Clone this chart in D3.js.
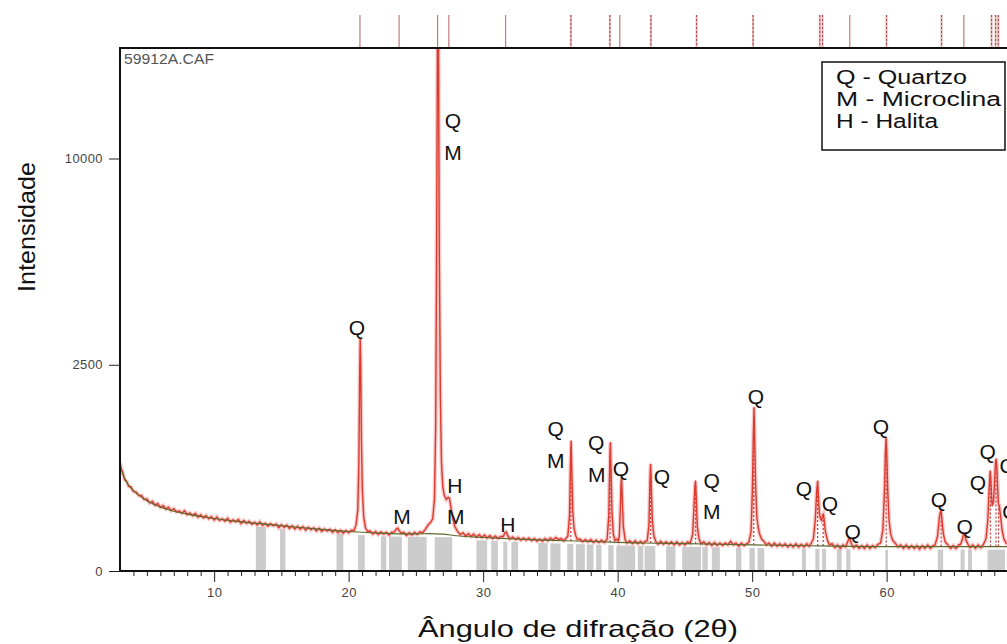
<!DOCTYPE html>
<html>
<head>
<meta charset="utf-8">
<script src="https://cdn.jsdelivr.net/npm/d3@7"></script>
<style>
  body { margin: 0; background: #fff; }
  svg { display: block; font-family: "Liberation Sans", Arial, sans-serif; }
</style>
</head>
<body>
<script>
// measured pattern, [2theta, counts]
const observed = [
  [3.0,690],[3.1,610],[3.2,570],[3.35,490],[3.5,470],[3.65,420],[3.8,418],[4.0,372],[4.2,366],[4.4,334],
  [4.6,336],[4.8,300],[5.0,306],[5.2,272],[5.4,286],[5.6,254],[5.8,268],[6.0,238],[6.2,252],[6.4,226],
  [6.6,240],[6.8,214],[7.0,228],[7.2,206],[7.4,212],[7.6,196],[7.8,214],[8.0,186],[8.2,198],[8.4,180],
  [8.6,196],[8.8,170],[9.0,186],[9.2,166],[9.4,180],[9.6,160],[9.8,174],[10.0,152],[10.2,172],[10.4,150],
  [10.6,160],[10.8,146],[11.0,164],[11.2,140],[11.4,154],[11.6,142],[11.8,156],[12.0,132],[12.2,150],[12.4,134],
  [12.6,146],[12.8,128],[13.0,140],[13.2,124],[13.4,142],[13.6,122],[13.8,134],[14.0,118],[14.2,132],[14.4,120],
  [14.6,130],[14.8,110],[15.0,126],[15.2,112],[15.4,124],[15.6,106],[15.8,120],[16.0,104],[16.2,118],[16.4,102],
  [16.6,116],[16.8,98],[17.0,112],[17.2,100],[17.4,110],[17.6,94],[17.8,108],[18.0,92],[18.2,104],[18.4,94],
  [18.6,102],[18.8,88],[19.0,100],[19.2,86],[19.4,98],[19.6,84],[19.8,96],[20.0,86],[20.2,98],[20.4,96],
  [20.55,125],[20.68,220],[20.76,700],[20.82,2300],[20.86,3170],[20.9,2500],[20.95,1000],[21.02,380],[21.12,170],[21.25,110],
  [21.4,92],[21.6,94],[21.8,80],[22.0,92],[22.2,78],[22.4,90],[22.6,80],[22.8,88],[23.0,76],[23.2,88],
  [23.4,90],[23.55,104],[23.65,108],[23.75,96],[23.9,84],[24.1,88],[24.3,74],[24.5,86],[24.7,76],[24.9,88],
  [25.1,78],[25.3,90],[25.5,86],[25.7,102],[25.9,124],[26.1,140],[26.25,160],[26.38,300],[26.47,1200],[26.54,6000],
  [26.6,16000],[26.64,22000],[26.68,16000],[26.74,6000],[26.82,1800],[26.9,700],[27.0,420],[27.1,340],[27.25,300],[27.4,320],
  [27.5,310],[27.6,240],[27.75,160],[27.9,115],[28.1,92],[28.3,78],[28.5,86],[28.7,72],[28.9,82],[29.1,70],
  [29.3,80],[29.5,68],[29.7,78],[29.9,66],[30.1,76],[30.3,64],[30.5,74],[30.7,62],[30.9,72],[31.1,62],
  [31.3,70],[31.5,70],[31.62,86],[31.72,90],[31.82,74],[32.0,60],[32.2,68],[32.4,58],[32.6,66],[32.8,56],
  [33.0,64],[33.2,56],[33.4,64],[33.6,54],[33.8,62],[34.0,52],[34.2,60],[34.4,52],[34.6,62],[34.8,54],
  [35.0,64],[35.2,56],[35.4,66],[35.6,58],[35.8,62],[36.0,54],[36.15,62],[36.3,72],[36.42,180],[36.49,650],
  [36.54,995],[36.59,600],[36.66,220],[36.75,110],[36.88,74],[37.0,58],[37.2,60],[37.4,50],[37.6,58],[37.8,50],
  [38.0,58],[38.2,48],[38.4,56],[38.6,48],[38.8,56],[39.0,48],[39.15,56],[39.22,60],[39.34,180],[39.41,650],
  [39.46,970],[39.51,580],[39.58,200],[39.68,80],[39.8,54],[39.95,60],[40.05,52],[40.12,70],[40.2,220],[40.25,430],
  [40.29,513],[40.34,320],[40.42,120],[40.55,58],[40.7,46],[40.9,54],[41.1,44],[41.3,54],[41.5,44],[41.7,52],
  [41.9,44],[42.05,52],[42.2,54],[42.33,130],[42.4,480],[42.45,671],[42.5,420],[42.58,150],[42.7,70],[42.85,50],
  [43.0,42],[43.2,52],[43.4,42],[43.6,50],[43.8,42],[44.0,50],[44.2,40],[44.4,50],[44.6,40],[44.8,48],
  [45.0,40],[45.2,50],[45.4,46],[45.58,80],[45.68,260],[45.74,420],[45.79,477],[45.84,330],[45.92,120],[46.05,60],
  [46.2,44],[46.4,50],[46.6,40],[46.8,48],[47.0,38],[47.2,48],[47.4,38],[47.6,46],[47.8,38],[48.0,46],
  [48.2,40],[48.4,52],[48.6,40],[48.8,46],[49.0,36],[49.2,46],[49.4,38],[49.6,44],[49.75,48],[49.92,90],
  [50.02,400],[50.09,1100],[50.14,1571],[50.19,1000],[50.26,420],[50.35,170],[50.45,110],[50.55,80],[50.7,60],[50.9,50],
  [51.05,40],[51.25,46],[51.45,36],[51.65,46],[51.85,36],[52.05,44],[52.25,36],[52.45,44],[52.65,34],[52.85,42],
  [53.05,34],[53.25,44],[53.45,34],[53.65,42],[53.85,34],[54.05,44],[54.25,36],[54.4,46],[54.55,60],[54.7,160],
  [54.8,380],[54.87,477],[54.93,320],[55.0,200],[55.08,160],[55.16,150],[55.24,180],[55.3,191],[55.36,150],[55.45,90],
  [55.6,55],[55.75,40],[55.95,44],[56.15,32],[56.35,40],[56.55,30],[56.75,40],[56.95,34],[57.12,52],[57.2,62],
  [57.28,58],[57.4,42],[57.55,32],[57.75,40],[57.95,30],[58.15,38],[58.35,30],[58.55,40],[58.75,30],[58.95,38],
  [59.15,32],[59.35,42],[59.55,46],[59.72,100],[59.84,380],[59.91,850],[59.96,1047],[60.01,800],[60.08,380],[60.18,150],
  [60.3,80],[60.45,55],[60.65,45],[60.85,34],[61.05,40],[61.25,30],[61.45,40],[61.65,30],[61.85,38],[62.05,30],
  [62.25,38],[62.45,28],[62.65,38],[62.85,30],[63.05,40],[63.25,30],[63.45,38],[63.6,40],[63.78,70],[63.92,170],
  [64.0,205],[64.05,212],[64.12,150],[64.22,80],[64.35,50],[64.55,40],[64.75,30],[64.95,38],[65.15,30],[65.35,40],
  [65.5,42],[65.62,58],[65.72,80],[65.8,76],[65.9,55],[66.05,42],[66.2,32],[66.4,40],[66.6,30],[66.8,40],
  [67.0,32],[67.2,42],[67.38,60],[67.52,150],[67.62,400],[67.7,589],[67.76,450],[67.84,250],[67.94,280],[68.02,450],
  [68.09,680],[68.14,739],[68.2,620],[68.26,380],[68.31,264],[68.38,250],[68.46,180],[68.58,100],[68.72,60],[68.9,45],
  [69.2,40],[69.6,38],[70.0,37]
];

// fitted background
const background = [
  [3.0,640],[3.3,520],[3.6,440],[4.0,380],[4.5,330],[5.0,290],[5.5,262],[6,240],[7,210],[8,190],
  [9,175],[10,162],[12,142],[14,128],[16,114],[18,102],[20,92],[22,85],[24,81],[25,81],
  [26,82],[27,80],[28,73],[30,66],[32,61],[34,57],[36,54],[38,51],[40,48],[42,46],
  [45,44],[50,40],[55,37],[60,35],[65,35],[70,35]
];

// reference stick positions (2theta) shown above the frame
const solidSticks = [20.84, 23.75, 26.61, 27.45, 31.67, 40.16, 57.26, 65.74];
const dottedSticks = [36.52, 39.42, 42.47, 45.87, 50.07, 55.03, 55.23, 59.99, 64.08, 67.80, 68.10, 68.30];

// dotted reference lines drawn inside peaks [2theta, counts]
const peakSticks = [
  [36.52, 900], [39.44, 880], [42.46, 600], [45.8, 430], [50.12, 1400], [54.87, 420],
  [55.28, 170], [59.97, 950], [64.05, 190], [67.72, 520], [68.13, 660], [68.32, 250]
];

// grey bands along the base [from, to] in 2theta
const greyBands = [
  [13.1,13.85],[14.9,15.3],[19.1,19.6],[20.7,21.2],[22.4,22.8],[23.0,23.96],[24.4,25.8],[26.4,27.7],
  [29.5,30.3],[30.6,31.1],[31.5,31.8],[32.1,32.6],[34.1,34.8],[35.0,35.75],[36.25,36.7],[36.9,37.56],
  [37.7,38.2],[38.4,38.8],[39.3,39.7],[39.9,41.3],[41.5,41.9],[42.0,42.8],[43.6,44.3],[44.8,46.2],
  [46.3,46.7],[47.0,47.6],[48.8,49.2],[49.8,50.2],[50.4,50.9],[53.7,54.0],[54.7,55.0],[55.2,55.5],
  [56.3,56.65],[57.0,57.3],[59.9,60.1],[63.8,64.2],[65.5,65.8],[66.05,66.35],[67.5,68.8]
];

// peak annotations [text, 2theta, counts]
const labels = [
  ["Q",20.61,3479],["Q",27.75,11930],["M",27.75,10293],["M",23.96,172],["H",27.89,426],["M",27.97,172],
  ["H",31.84,125],["Q",35.4,1188],["M",35.4,713],["Q",38.4,965],["M",38.45,543],["Q",40.24,613],
  ["Q",43.29,521],["Q",46.99,477],["M",46.99,205],["Q",50.28,1784],["Q",53.85,396],["Q",55.78,264],
  ["Q",57.48,94],["Q",59.57,1222],["Q",63.88,297],["Q",65.81,119],["Q",66.78,456],["Q",67.52,834],
  ["Q",69.0,650],["Q",69.2,205]
];

const legendItems = ["Q - Quartzo", "M - Microclina", "H - Halita"];
const yTicks = [0, 2500, 10000];
const xTicks = [10, 20, 30, 40, 50, 60];

const w = 1007, h = 644;
const plotLeft = 120, plotTop = 48, plotBottom = 571;

const x = d3.scaleLinear().domain([3, 70]).range([plotLeft, plotLeft + 67 * 13.45]);
const y = d3.scaleSqrt().domain([0, 10000]).range([plotBottom, 158.5]);

const svg = d3.select("body").append("svg")
  .attr("width", w).attr("height", h);

svg.append("clipPath").attr("id", "plot")
  .append("rect").attr("x", plotLeft).attr("y", plotTop)
  .attr("width", x(70) - plotLeft).attr("height", plotBottom - plotTop);

const plot = svg.append("g").attr("clip-path", "url(#plot)");

// background level at a given angle, for the grey bands
const bisect = d3.bisector(d => d[0]).left;
function bgAt(t) {
  const i = Math.max(1, Math.min(background.length - 1, bisect(background, t)));
  const a = background[i - 1], b = background[i];
  return a[1] + (b[1] - a[1]) * (t - a[0]) / (b[0] - a[0]);
}

plot.selectAll("rect.band")
  .data(greyBands)
  .enter().append("rect")
  .attr("class", "band")
  .attr("x", d => x(d[0]))
  .attr("width", d => x(d[1]) - x(d[0]))
  .attr("y", d => y(bgAt((d[0] + d[1]) / 2)) + 3)
  .attr("height", d => plotBottom - y(bgAt((d[0] + d[1]) / 2)) - 3)
  .attr("fill", "#cccccc");

const line = d3.line().x(d => x(d[0])).y(d => y(d[1]));

plot.append("path")
  .datum(observed)
  .attr("d", line)
  .attr("fill", "none")
  .attr("stroke", "#f3a5a5")
  .attr("stroke-width", 4)
  .attr("stroke-opacity", 0.6);

plot.selectAll("line.pk")
  .data(peakSticks)
  .enter().append("line")
  .attr("class", "pk")
  .attr("x1", d => x(d[0])).attr("x2", d => x(d[0]))
  .attr("y1", d => y(bgAt(d[0])))
  .attr("y2", d => y(d[1]))
  .attr("stroke", "#c03a3a")
  .attr("stroke-width", 1.2)
  .attr("stroke-dasharray", "2,2");

plot.append("path")
  .datum(observed)
  .attr("d", line)
  .attr("fill", "none")
  .attr("stroke", "#dc3a2e")
  .attr("stroke-width", 1.4)
  .attr("stroke-linejoin", "round");

plot.append("path")
  .datum(background)
  .attr("d", d3.line().curve(d3.curveMonotoneX).x(d => x(d[0])).y(d => y(d[1])))
  .attr("fill", "none")
  .attr("stroke", "#5d6a2c")
  .attr("stroke-width", 1.1);

// sticks above the frame
svg.selectAll("line.solid")
  .data(solidSticks)
  .enter().append("line")
  .attr("class", "solid")
  .attr("x1", d => x(d)).attr("x2", d => x(d))
  .attr("y1", 15).attr("y2", plotTop)
  .attr("stroke", "#c47a7a").attr("stroke-width", 1.2);

svg.selectAll("line.dot")
  .data(dottedSticks)
  .enter().append("line")
  .attr("class", "dot")
  .attr("x1", d => x(d)).attr("x2", d => x(d))
  .attr("y1", 15).attr("y2", plotTop)
  .attr("stroke", "#e2b0b0").attr("stroke-width", 2);
svg.selectAll("line.dot2")
  .data(dottedSticks)
  .enter().append("line")
  .attr("class", "dot2")
  .attr("x1", d => x(d)).attr("x2", d => x(d))
  .attr("y1", 15).attr("y2", plotTop)
  .attr("stroke", "#a84848").attr("stroke-width", 1)
  .attr("stroke-dasharray", "2,2");

// frame
svg.append("path")
  .attr("d", `M${x(70)},${plotTop}H${plotLeft}V${plotBottom}H${x(70)}`)
  .attr("fill", "none").attr("stroke", "#111").attr("stroke-width", 2);

// axes
const yAxis = d3.axisLeft(y).tickValues(yTicks).tickFormat(d3.format("d")).tickSize(10).tickPadding(6);
const gy = svg.append("g").attr("transform", `translate(${plotLeft - 1},0)`).call(yAxis);
gy.select(".domain").remove();
gy.selectAll("text").attr("font-size", 13).attr("fill", "#444").attr("letter-spacing", 0.4)
  .style("font-family", "'Liberation Sans', Arial, sans-serif");
gy.selectAll("line").attr("stroke", "#222");

const xAxis = d3.axisBottom(x).tickValues(xTicks).tickSize(11).tickPadding(6);
const gx = svg.append("g").attr("transform", `translate(0,${plotBottom})`).call(xAxis);
gx.select(".domain").remove();
gx.selectAll("text").attr("font-size", 13).attr("fill", "#444").attr("letter-spacing", 0.4)
  .style("font-family", "'Liberation Sans', Arial, sans-serif");
gx.selectAll("line").attr("stroke", "#222");

const minor = d3.axisBottom(x)
  .tickValues(d3.range(4, 70).filter(v => v % 10 !== 0))
  .tickSize(5).tickFormat("");
const gm = svg.append("g").attr("transform", `translate(0,${plotBottom})`).call(minor);
gm.select(".domain").remove();
gm.selectAll("line").attr("stroke", "#222");

// file name
svg.append("text")
  .attr("x", 124).attr("y", 64)
  .attr("font-size", 14).attr("fill", "#555")
  .attr("textLength", 90).attr("lengthAdjust", "spacingAndGlyphs")
  .text("59912A.CAF");

// peak labels
svg.selectAll("text.lbl")
  .data(labels)
  .enter().append("text")
  .attr("class", "lbl")
  .attr("x", d => x(d[1]))
  .attr("y", d => y(d[2]))
  .attr("text-anchor", "middle")
  .attr("dominant-baseline", "central")
  .attr("font-size", 21)
  .attr("fill", "#111")
  .text(d => d[0]);

// legend
svg.append("rect")
  .attr("x", 822).attr("y", 62).attr("width", 183).attr("height", 88)
  .attr("fill", "#fff").attr("stroke", "#111").attr("stroke-width", 1.5);
const legendWidths = [131, 165, 102];
svg.selectAll("text.leg")
  .data(legendItems)
  .enter().append("text")
  .attr("class", "leg")
  .attr("x", 836)
  .attr("y", (d, i) => 84 + i * 22)
  .attr("font-size", 20)
  .attr("fill", "#111")
  .attr("textLength", (d, i) => legendWidths[i])
  .attr("lengthAdjust", "spacingAndGlyphs")
  .text(d => d);

// axis titles
svg.append("text")
  .attr("transform", "translate(35,227) rotate(-90)")
  .attr("text-anchor", "middle")
  .attr("font-size", 24).attr("fill", "#111")
  .attr("textLength", 130).attr("lengthAdjust", "spacingAndGlyphs")
  .text("Intensidade");

svg.append("text")
  .attr("x", 578).attr("y", 637)
  .attr("text-anchor", "middle")
  .attr("font-size", 24).attr("fill", "#111")
  .attr("textLength", 320).attr("lengthAdjust", "spacingAndGlyphs")
  .text("Ângulo de difração (2θ)");
</script>
</body>
</html>
